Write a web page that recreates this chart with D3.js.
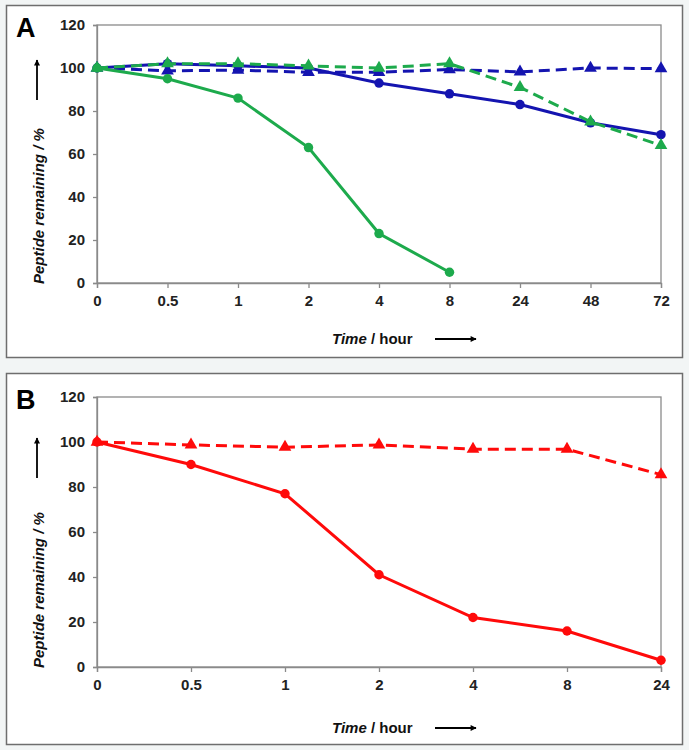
<!DOCTYPE html>
<html><head><meta charset="utf-8">
<script src="https://cdn.jsdelivr.net/npm/d3@7"></script>
<style>
body{margin:0;background:#f2f5f5;}
svg{display:block;font-family:Arial,"Liberation Sans",sans-serif;}
</style></head>
<body><svg id="chart" width="689" height="750"></svg>
<script>
// ---- Data ----
const catsA = ["0","0.5","1","2","4","8","24","48","72"];
const greenSolidA = [100, 95, 86, 63, 23, 5];
const greenDashedA = [100, 102, 102, 101, 100, 102, 91, 75, 64];
const blueSolidA = [100, 102, 101, 100, 93, 88, 83, 74.5, 69];
const blueDashedA = [100, 98.7, 99, 98, 98, 99.3, 98.2, 100, 99.7];

const catsB = ["0","0.5","1","2","4","8","24"];
const redSolidB = [100, 90, 77, 41, 22, 16, 3];
const redDashedB = [100, 98.7, 97.7, 98.7, 96.8, 96.8, 85.5];

const yTicks = [0, 20, 40, 60, 80, 100, 120];

const GREEN = "#1daa4c", BLUE = "#1414b0", RED = "#ff0a0a";

const svg = d3.select("#chart");
svg.append("defs").append("marker")
  .attr("id","arr").attr("viewBox","0 0 10 10").attr("refX",9).attr("refY",5)
  .attr("markerWidth",8).attr("markerHeight",6).attr("markerUnits","userSpaceOnUse")
  .attr("orient","auto")
  .append("path").attr("d","M0,0L10,5L0,10z").attr("fill","#000");

function panel(cfg){
  const g = svg.append("g");
  g.append("rect").attr("x",6.5).attr("y",cfg.boxTop+0.5).attr("width",676).attr("height",cfg.boxBottom-cfg.boxTop)
    .attr("fill","#fff").attr("stroke","#6e6e6e").attr("stroke-width",1.5);
  const left = 97, right = 661, top = cfg.top, bottom = cfg.bottom;
  const x = d3.scalePoint().domain(cfg.cats).range([left, right]);
  const y = d3.scaleLinear().domain([0,120]).range([bottom, top]);

  // plot frame
  g.append("rect").attr("x",left).attr("y",top).attr("width",right-left).attr("height",bottom-top)
    .attr("fill","none").attr("stroke","#8a8a8a").attr("stroke-width",1.3);

  const ya = g.append("g").attr("transform",`translate(${left},0)`)
    .call(d3.axisLeft(y).tickValues(yTicks).tickSize(4).tickPadding(8));
  const xa = g.append("g").attr("transform",`translate(0,${bottom})`)
    .call(d3.axisBottom(x).tickSize(5).tickPadding(7));
  [ya, xa].forEach(a=>{
    a.select(".domain").attr("stroke","#8a8a8a").attr("stroke-width",1.3);
    a.selectAll(".tick line").attr("stroke","#8a8a8a").attr("stroke-width",1.3);
    a.selectAll(".tick text").attr("fill","#222").style("font-size","15px").style("font-weight","bold");
  });

  // panel letter
  g.append("text").attr("x",16).attr("y",cfg.top+12).text(cfg.letter)
    .style("font-size","27px").style("font-weight","bold").attr("fill","#000");

  // y title
  g.append("text").attr("transform",`translate(44,${bottom+1}) rotate(-90)`)
    .style("font-size","15px").style("font-weight","bold").style("font-style","italic").attr("fill","#111")
    .text("Peptide remaining / %");
  g.append("line").attr("x1",37).attr("x2",37).attr("y1",cfg.arrowY0).attr("y2",cfg.arrowY1)
    .attr("stroke","#000").attr("stroke-width",1.8).attr("marker-end","url(#arr)");

  // x title
  const t = g.append("text").attr("x",332).attr("y",cfg.xTitleY)
    .style("font-size","15px").style("font-weight","bold").attr("fill","#111");
  t.append("tspan").style("font-style","italic").text("Time");
  t.append("tspan").text(" / hour");
  g.append("line").attr("x1",435).attr("x2",476).attr("y1",cfg.xTitleY-5).attr("y2",cfg.xTitleY-5)
    .attr("stroke","#000").attr("stroke-width",1.8).attr("marker-end","url(#arr)");

  const line = d3.line().x((d,i)=>x(cfg.cats[i])).y(d=>y(d));
  cfg.series.forEach(s=>{
    g.append("path").datum(s.values).attr("d",line).attr("fill","none")
      .attr("stroke",s.color).attr("stroke-width",3)
      .attr("stroke-dasharray", s.dashed ? "11,6" : null);
    const sym = d3.symbol().type(s.dashed ? d3.symbolTriangle : d3.symbolCircle).size(s.dashed ? 70 : 70);
    g.selectAll(null).data(s.values).enter().append("path")
      .attr("d",sym).attr("transform",(d,i)=>`translate(${x(cfg.cats[i])},${y(d)})`)
      .attr("fill",s.color);
  });
}

panel({letter:"A", boxTop:5, boxBottom:357, top:25, bottom:283, cats:catsA,
  arrowY0:100, arrowY1:60, xTitleY:344,
  series:[
    {values:blueDashedA, color:BLUE, dashed:true},
    {values:blueSolidA, color:BLUE, dashed:false},
    {values:greenDashedA, color:GREEN, dashed:true},
    {values:greenSolidA, color:GREEN, dashed:false}
  ]});

panel({letter:"B", boxTop:373, boxBottom:744, top:397, bottom:667, cats:catsB,
  arrowY0:478, arrowY1:438, xTitleY:733,
  series:[
    {values:redDashedB, color:RED, dashed:true},
    {values:redSolidB, color:RED, dashed:false}
  ]});
</script></body></html>
